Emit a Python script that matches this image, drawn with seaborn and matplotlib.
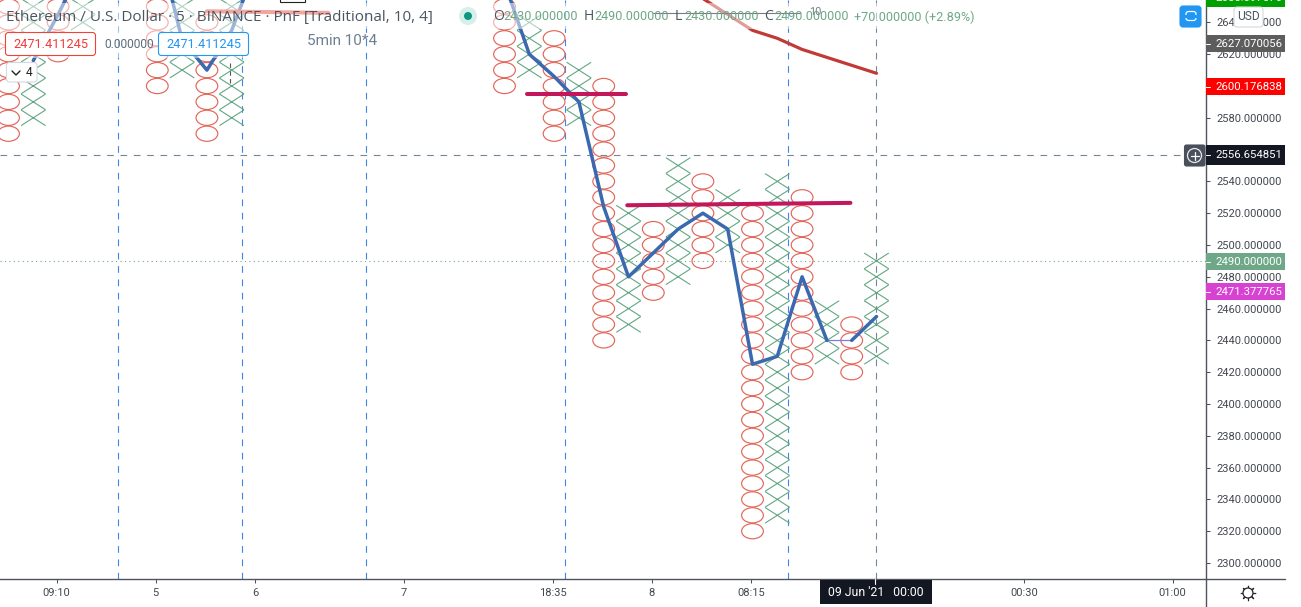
import numpy as np
import pandas as pd
import matplotlib
matplotlib.use("Agg")
import matplotlib.pyplot as plt
from matplotlib.path import Path
from matplotlib.lines import Line2D
from matplotlib.patches import Rectangle, FancyBboxPatch, Circle
from matplotlib.transforms import Affine2D
import seaborn as sns

# ---- data -------------------------------------------------------------
O_COLS = [0, 2, 6, 8, 20, 22, 24, 26, 28, 30, 32, 34]
O_LOW = [2570, 2620, 2600, 2570, 2600, 2570, 2440, 2470, 2490, 2320, 2420, 2420]
O_HIGH = [2650, 2670, 2670, 2640, 2670, 2630, 2600, 2510, 2540, 2520, 2530, 2450]
X_COLS = [1, 3, 7, 9, 21, 23, 25, 27, 29, 31, 33, 35]
X_LOW = [2580, 2640, 2610, 2580, 2610, 2580, 2450, 2480, 2500, 2330, 2430, 2430]
X_HIGH = [2670, 2670, 2670, 2670, 2640, 2610, 2520, 2550, 2530, 2540, 2460, 2490]
BOX_SIZE = 10

TREND_A_COLS = [1, 2, 3]
TREND_A = [2616, 2645, 2676]
TREND_B_COLS = [6, 7, 8, 9, 10]
TREND_B = [2692, 2629, 2610, 2635, 2676]
TREND_C_COLS = [20, 21, 22, 23, 24, 25, 26, 27, 28, 29, 30, 31, 32, 33]
TREND_C = [2665, 2620, 2606, 2590, 2524, 2480, 2495, 2510, 2520, 2510, 2425, 2430, 2480, 2440]
TREND_D_COLS = [34, 35]
TREND_D = [2440, 2455]
FLAT_COLS = [33, 34]
FLAT = [2440, 2440]

MA_COLS = [28, 29, 30, 31, 32, 33, 34, 35]
MA = [2655, 2645, 2635, 2630, 2623, 2618, 2613, 2608]

LEVEL_A_COLS = [20.9, 24.9]
LEVEL_A = [2595, 2595]
LEVEL_B_COLS = [24.95, 33.95]
LEVEL_B = [2525, 2526.5]
LEVEL_C_COLS = [8, 12.9]
LEVEL_C = [2647, 2646]

SESSION_BREAKS = [4.42, 9.42, 14.42, 22.44, 31.43]
CROSS_COL = 34.97
CROSS_PRICE = 2556.654851
LAST_PRICE = 2490

Y_TICKS = list(range(2300, 2641, 20))
X_TICK_COLS = [2, 6, 10, 16, 22, 26, 30, 35, 41, 47]
X_TICK_LABELS = ["09:10", "5", "6", "7", "18:35", "8", "08:15", "", "00:30", "01:00"]

PRICE_TAGS = ["2655.397576", "2627.070056", "2600.176838", "2556.654851", "2490.000000", "2471.377765"]
TAG_COLORS = ["#00a000", "#5d5d5d", "#ff0000", "#131722", "#6fa888", "#d742d2"]
TAG_TOPS = [-11, 35, 78, 145, 253, 283]
TAG_BOTTOMS = [6.5, 52, 95, 165, 270, 300]

O_VALUES = ["2430.000000", "2490.000000", "2430.000000", "2490.000000"]
O_NAMES = ["O", "H", "L", "C"]

# ---- style ------------------------------------------------------------
sns.set_theme(style="white")
plt.rcParams["font.family"] = ["Roboto", "DejaVu Sans"]

W, H = 1301, 607
AX_R, AX_B = 1206, 579
fig = plt.figure(figsize=(W / 100, H / 100), dpi=100, facecolor="white")
ax = fig.add_axes([0, (H - AX_B) / H, AX_R / W, AX_B / H])
PX = Affine2D().scale(1, -1).translate(0, H)

AXIS = "#50535e"
TXT = "#43474f"
TICK_PT = 8.0
O_COLOR = "#e2665a"
X_COLOR = "#64a684"
BLUE = "#3a69b0"
MAGENTA = "#c2185b"


def boxes(cols, lows, highs):
    rows = []
    for c, lo, hi in zip(cols, lows, highs):
        for p in range(lo, hi + BOX_SIZE, BOX_SIZE):
            rows.append((c, p))
    return pd.DataFrame(rows, columns=["col", "price"])


ELLIPSE = Path.unit_circle().transformed(Affine2D().scale(1, 0.7))
CROSS = Path([(-1, -0.64), (1, 0.64), (-1, 0.64), (1, -0.64)],
             [Path.MOVETO, Path.LINETO, Path.MOVETO, Path.LINETO])

ax.set_xlim(-8.5 / 24.8, (AX_R - 8.5) / 24.8)
ax.set_ylim(2300 - 16 / 1.59, 2300 + 563 / 1.59)

# session breaks and crosshair
for c in SESSION_BREAKS:
    ax.axvline(c, color="#3d85e6", lw=0.8, dashes=(6, 6), zorder=1)
ax.axvline(CROSS_COL, color="#758696", lw=0.8, dashes=(6, 6), zorder=1)
ax.axhline(CROSS_PRICE, color="#758696", lw=0.8, dashes=(6, 6), zorder=1)
ax.axhline(LAST_PRICE, color="#6fa888", lw=0.8, dashes=(1, 3), zorder=1)

# point & figure marks
sns.scatterplot(data=boxes(O_COLS, O_LOW, O_HIGH), x="col", y="price", ax=ax,
                marker=ELLIPSE, s=245, facecolor="none", edgecolor=O_COLOR,
                linewidth=0.85, legend=False, zorder=2)
sns.scatterplot(data=boxes(X_COLS, X_LOW, X_HIGH), x="col", y="price", ax=ax,
                marker=CROSS, s=311, facecolor="none", edgecolor=X_COLOR,
                linewidth=0.8, legend=False, zorder=2)

# trend lines
for xs, ys in [(TREND_A_COLS, TREND_A), (TREND_B_COLS, TREND_B),
               (TREND_C_COLS, TREND_C), (TREND_D_COLS, TREND_D)]:
    sns.lineplot(x=xs, y=ys, ax=ax, color=BLUE, lw=2.5, sort=False,
                 estimator=None, legend=False, zorder=4)
sns.lineplot(x=FLAT_COLS, y=FLAT, ax=ax, color="#7b7be8", lw=0.9, sort=False,
             estimator=None, legend=False, zorder=3)
sns.lineplot(x=MA_COLS, y=MA, ax=ax, color="#c23a35", lw=2.3, sort=False,
             estimator=None, legend=False, zorder=4)
for xs, ys, col in [(LEVEL_A_COLS, LEVEL_A, MAGENTA), (LEVEL_B_COLS, LEVEL_B, MAGENTA),
                    (LEVEL_C_COLS, LEVEL_C, "#eb4b41")]:
    sns.lineplot(x=xs, y=ys, ax=ax, color=col, lw=2.9, sort=False,
                 estimator=None, legend=False, zorder=5)

# axes
ax.set_xlabel("")
ax.set_ylabel("")
for s in ("top", "left"):
    ax.spines[s].set_visible(False)
for s in ("right", "bottom"):
    ax.spines[s].set_visible(True)
    ax.spines[s].set_color(AXIS)
    ax.spines[s].set_linewidth(1.0)
ax.yaxis.tick_right()
ax.set_yticks(Y_TICKS)
ax.set_yticklabels([f"{v:.6f}" for v in Y_TICKS])
ax.set_xticks([c - 0.06 for c in X_TICK_COLS])
ax.set_xticklabels(X_TICK_LABELS)
ax.tick_params(axis="y", length=3.2, width=0.75, color=AXIS, labelcolor=TXT,
               labelsize=TICK_PT, pad=4, right=True, left=False)
ax.tick_params(axis="x", length=3.2, width=0.75, color=AXIS, labelcolor=TXT,
               labelsize=TICK_PT, pad=3.5, bottom=True)
ax.grid(False)


# ---- chart chrome in pixel coordinates ---------------------------------
def rect(x0, y0, x1, y1, fc, ec="none", alpha=None, z=1.0, lw=0.0):
    fig.add_artist(Rectangle((x0, y0), x1 - x0, y1 - y0, transform=PX, fc=fc, ec=ec,
                             alpha=alpha, lw=lw, zorder=z))


def rbox(x0, y0, x1, y1, fc, ec, lw=0.8, r=3, z=2.0):
    fig.add_artist(FancyBboxPatch((x0 + r, y0 + r), x1 - x0 - 2 * r, y1 - y0 - 2 * r,
                                  boxstyle=f"round,pad={r},rounding_size={r}",
                                  transform=PX, fc=fc, ec=ec, lw=lw, zorder=z))


def label(x, y, s, color=TXT, px=12.0, ha="left", z=3.0, family=None):
    kw = {"family": family} if family else {}
    fig.text(x, y, s, transform=PX, color=color, fontsize=px * 0.72, ha=ha, va="center",
             zorder=z, **kw)


def seg(xs, ys, color, lw=0.75, z=2.5, **kw):
    fig.add_artist(Line2D(xs, ys, transform=PX, color=color, lw=lw, zorder=z, **kw))


# translucent legend bands
rect(0, 3, 985, 29, "white", alpha=0.5, z=1.0)
rect(0, 29, 250, 58, "white", alpha=0.5, z=1.0)

seg([653, 800], [13, 13], "#787b86", lw=0.8)
label(815, 12, "10", color="#787b86", px=11, ha="center")
seg([230, 230], [63, 85], "#555555", lw=0.8, dashes=(4, 3))
rect(280, -4, 305, 2, "white", ec="#222222", lw=0.8, z=2.0)

label(6, 17, "Ethereum / U.S. Dollar · 5 · BINANCE · PnF [Traditional, 10, 4]",
      color="#4a5560", px=15.2, family="Open Sans")
fig.add_artist(Circle((468, 16), 9, transform=PX, fc="#d8eeea", ec="none", zorder=2))
fig.add_artist(Circle((468, 16), 4, transform=PX, fc="#089981", ec="none", zorder=2.2))
for name, val, xn, xv in zip(O_NAMES, O_VALUES, [493, 584, 675, 764], [503, 594, 684, 774]):
    label(xn, 17, name, color="#4a5560", px=14, family="Open Sans")
    label(xv, 17, val, color="#6fa888", px=12.6)
label(854, 17, "+70.000000 (+2.89%)", color="#6fa888", px=12.6)

rbox(5.5, 32.5, 95.5, 55.5, "white", "#f44336")
label(50.5, 44, "2471.411245", color="#f23b3b", px=12.8, ha="center")
label(104, 44, "0.000000", color="#5d6b7a", px=12.0)
rbox(158.5, 32.5, 248.5, 55.5, "white", "#2196f3")
label(203.5, 44, "2471.411245", color="#2196f3", px=12.8, ha="center")
rbox(6.5, 62.5, 37, 82, "white", "#d6d8de")
seg([12, 16, 20], [71, 75, 71], "#222222", lw=1.0, z=3)
label(29, 72.5, "4", color="#222222", px=12, ha="center")
label(307, 41, "5min 10*4", color="#6e7f90", px=15.2)

# price tags
for s, c, t, b in zip(PRICE_TAGS, TAG_COLORS, TAG_TOPS, TAG_BOTTOMS):
    rect(1206, t, 1285, b, c, z=2.0)
    label(1248.5, (t + b) / 2 + 0.3, s, color="white", px=11.4, ha="center")
    seg([1206, 1210], [(t + b) / 2, (t + b) / 2], "white", lw=0.75, z=2.6)

# crosshair plus button
rbox(1184.5, 145, 1205, 166, "#4a4f5c", "#4a4f5c", r=2)
fig.add_artist(Circle((1194.5, 155.5), 7, transform=PX, fc="none", ec="#e8e9ec", lw=0.9, zorder=3))
seg([1190.5, 1198.5], [155.5, 155.5], "white", lw=0.9, z=3)
seg([1194.5, 1194.5], [151.5, 159.5], "white", lw=0.9, z=3)

# auto-scale and currency buttons
rbox(1180, 6, 1201, 27, "#2196f3", "#2196f3", r=3)
rbox(1186, 11.5, 1196, 20.5, "none", "white", lw=0.9, r=2.5, z=3)
rect(1184, 14.5, 1198, 17.5, "#2196f3", z=3.2)
rbox(1234, 7, 1263, 27, "white", "#d6d8de", r=3, z=3.4)
label(1248.5, 17, "USD", color="#4a5565", px=12, ha="center", z=3.5)

# time tag
rect(820, 580, 932, 604, "#131722", z=2.0)
seg([875, 875], [579, 584], "white", lw=0.8, z=2.6)
label(876, 593, "09 Jun '21   00:00", color="white", px=12.2, ha="center")

# axis corner and gear
seg([1206, 1206], [579, 607], AXIS, lw=1.0)
seg([1206, 1285], [579, 579], AXIS, lw=1.0)
fig.add_artist(Line2D([1248], [593], transform=PX, marker=(8, 2, 0), ms=11, mew=0.8,
                      mec="#222222", ls="none", zorder=3))
fig.add_artist(Circle((1248, 593), 5, transform=PX, fc="white", ec="#222222", lw=0.9, zorder=3.2))

fig.savefig("out.png", dpi=100, facecolor="white")
